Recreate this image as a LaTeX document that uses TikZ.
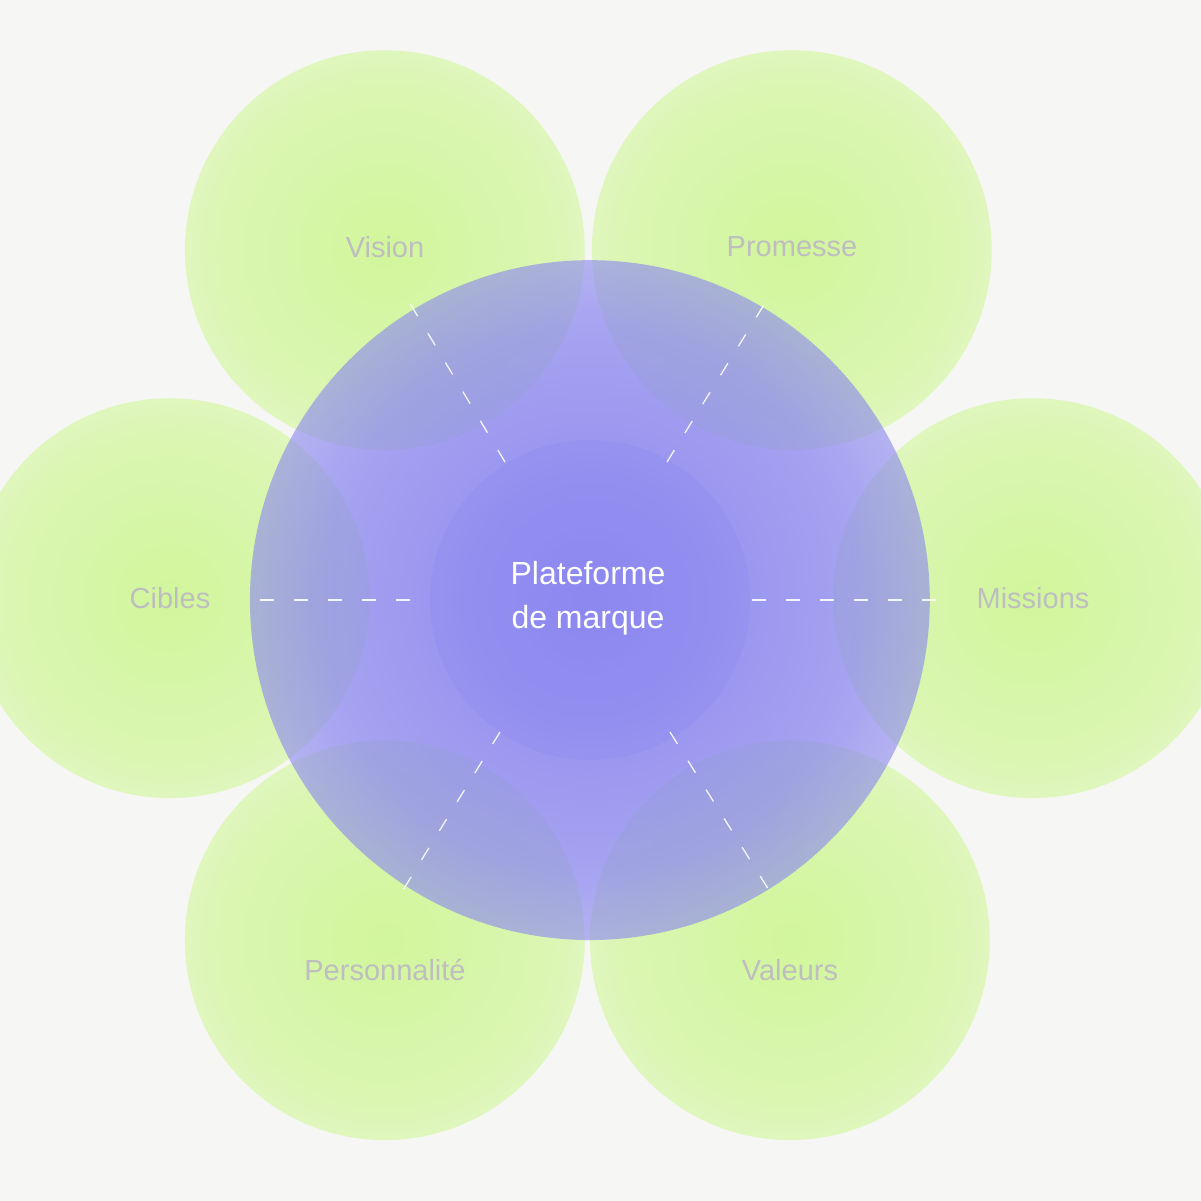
\documentclass[tikz,border=0pt]{standalone}
\usepackage{fontspec}
\setmainfont{Liberation Sans}
\usetikzlibrary{fadings}
\definecolor{bg}{HTML}{F6F6F4}
\definecolor{grn}{HTML}{D2F79C}
\definecolor{pur}{HTML}{8C88F0}
\definecolor{lbl}{HTML}{BEBEC0}
\pgfdeclareradialshading{myblur}{\pgfpoint{0bp}{0bp}}{color(0bp)=(pgftransparent!0);color(20bp)=(pgftransparent!25);color(40bp)=(pgftransparent!80);color(50bp)=(pgftransparent!100)}
\pgfdeclarefading{myfade}{\pgfuseshading{myblur}}
\tikzset{
  gblob/.style={fill=grn,path fading=myfade},
  pblob/.style={fill=pur,path fading=myfade},
  lab/.style={text=lbl,font=\fontsize{29}{34}\selectfont},
  dashline/.style={draw=white,line width=1.3pt,dash pattern=on 14pt off 20pt,opacity=0.9}
}
\begin{document}
\begin{tikzpicture}[x=1pt,y=-1pt]
\fill[bg] (0,0) rectangle (1201,1201);
\useasboundingbox (0,0) rectangle (1201,1201);
\foreach \p in {(385,250),(792,250),(170,598),(1033,598),(385,940),(790,940)}
  \fill[gblob] \p circle (200);
\fill[pblob] (590,600) circle (340);
\fill[pblob,opacity=0.5] (590,600) circle (160);
\node[text=white,align=center,font=\fontsize{32}{44}\selectfont] (c) at (588,598) {Plateforme\\de marque};
\node[lab] (v) at (385,247) {Vision};
\node[lab] (p) at (792,247) {Promesse};
\node[lab] (ci) at (170,598) {Cibles};
\node[lab] (m) at (1033,598) {Missions};
\node[lab] (pe) at (385,970) {Personnalité};
\node[lab] (va) at (790,970) {Valeurs};
\coordinate (c1) at (505,462); \coordinate (v1) at (405,295);
\coordinate (c2) at (667,462); \coordinate (p1) at (770,295);
\coordinate (c3) at (410,600); \coordinate (ci1) at (255,600);
\coordinate (c4) at (752,600); \coordinate (m1) at (945,600);
\coordinate (c5) at (500,732); \coordinate (pe1) at (400,895);
\coordinate (c6) at (670,732); \coordinate (va1) at (772,895);
\draw[dashline] (c1) -- (v1);
\draw[dashline] (c2) -- (p1);
\draw[dashline] (c3) -- (ci1);
\draw[dashline] (c4) -- (m1);
\draw[dashline] (c5) -- (pe1);
\draw[dashline] (c6) -- (va1);
\end{tikzpicture}
\end{document}
